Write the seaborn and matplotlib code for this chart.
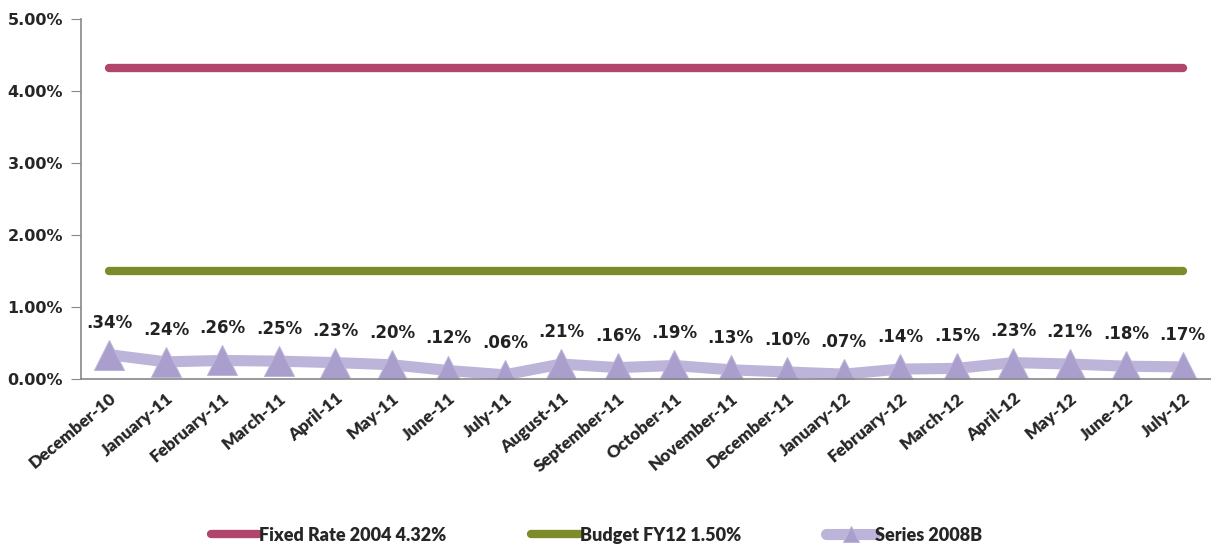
import pandas as pd
import numpy as np
import seaborn as sns
import matplotlib.pyplot as plt

months = ['December-10', 'January-11', 'February-11', 'March-11', 'April-11', 'May-11',
          'June-11', 'July-11', 'August-11', 'September-11', 'October-11', 'November-11',
          'December-11', 'January-12', 'February-12', 'March-12', 'April-12', 'May-12',
          'June-12', 'July-12']
fixed_rate = [4.32] * 20
budget = [1.50] * 20
series_2008b = [0.34, 0.24, 0.26, 0.25, 0.23, 0.20, 0.12, 0.06, 0.21, 0.16,
                0.19, 0.13, 0.10, 0.07, 0.14, 0.15, 0.23, 0.21, 0.18, 0.17]
yticks = [0, 1, 2, 3, 4, 5]

sns.set_style('white')
plt.rcParams['font.family'] = ['Lato', 'DejaVu Sans']

df = pd.DataFrame({'month': months, 'pos': np.arange(len(months)),
                   'Fixed Rate 2004 4.32%': fixed_rate,
                   'Budget FY12 1.50%': budget,
                   'Series 2008B': series_2008b})

fig = plt.figure(figsize=(12.11, 5.44), dpi=100)
ax = fig.add_axes([0.067, 0.303, 0.933, 0.662])

sns.lineplot(data=df, x='pos', y='Fixed Rate 2004 4.32%', ax=ax, color='#B0466C',
             lw=6, solid_capstyle='round', label='Fixed Rate 2004 4.32%')
sns.lineplot(data=df, x='pos', y='Budget FY12 1.50%', ax=ax, color='#7E8B2A',
             lw=6, solid_capstyle='round', label='Budget FY12 1.50%')
sns.lineplot(data=df, x='pos', y='Series 2008B', ax=ax, color='#BDB4DA',
             lw=8, marker='^', markersize=22, markerfacecolor='#A99ECC',
             markeredgecolor='#BDB4DA', label='Series 2008B')

for i, v in enumerate(series_2008b):
    ax.text(i, v + 0.32, ('%.2f%%' % v)[1:], ha='center', va='bottom',
            fontsize=12, fontweight='bold', color='#222222', family='DejaVu Sans')

ax.set_xlim(-0.5, len(months) - 0.5)
ax.set_ylim(0, 5)
ax.set_yticks(yticks)
ax.set_yticklabels(['%.2f%%' % t for t in yticks], fontsize=11.5, fontweight='bold',
                   family='DejaVu Sans')
ax.set_xticks(np.arange(len(months)))
ax.set_xticklabels(months, rotation=40, ha='right', rotation_mode='anchor',
                   fontsize=12.5, fontweight='heavy')
ax.set_xticks(np.arange(len(months) + 1) - 0.5, minor=True)
ax.tick_params(axis='x', which='major', length=0, pad=8)
ax.tick_params(axis='x', which='minor', length=5, color='#888888', direction='out')
ax.tick_params(axis='y', length=7, color='#888888', direction='out', left=True, pad=6)
ax.set_xlabel('')
ax.set_ylabel('')
for s in ['top', 'right']:
    ax.spines[s].set_visible(False)
for s in ['left', 'bottom']:
    ax.spines[s].set_color('#888888')
    ax.spines[s].set_linewidth(1.2)

leg = ax.legend(loc='center', bbox_to_anchor=(0.456, -0.433), ncol=3, frameon=False,
                handlelength=2.7, handletextpad=0.0, columnspacing=4.7,
                prop={'weight': 'heavy', 'size': 13})
for h in leg.legend_handles:
    h.set_markersize(12)

fig.savefig('out.png', dpi=100)
